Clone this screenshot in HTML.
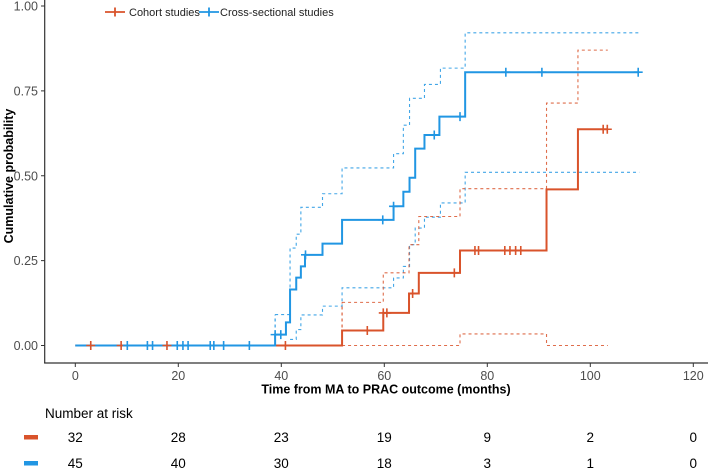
<!DOCTYPE html>
<html><head><meta charset="utf-8"><style>
html,body{margin:0;padding:0;background:#fff;}
svg{display:block;font-family:"Liberation Sans",Arial,sans-serif;}
</style></head><body>
<svg id="chart" width="708" height="472" viewBox="0 0 708 472"></svg>
<script>
// ---- data ----
const xTicks = [0, 20, 40, 60, 80, 100, 120];
const yTicks = [0, 0.25, 0.5, 0.75, 1.0];
const yTickLabels = ["0.00", "0.25", "0.50", "0.75", "1.00"];
// Cross-sectional (blue)
const blueTimes = [38.8, 40.9, 41.7, 42.9, 43.8, 44.6, 48.0, 51.8, 61.8, 63.7, 64.9, 66.0, 67.8, 70.7, 75.7];
const blueVals  = [0.032, 0.068, 0.165, 0.2, 0.233, 0.267, 0.30, 0.37, 0.41, 0.453, 0.494, 0.58, 0.62, 0.674, 0.805];
const blueEnd = 109.5;
const blueCensorT = [10.1, 14.0, 15.0, 19.8, 20.9, 21.9, 26.2, 26.9, 28.8, 33.8, 38.8, 39.9, 44.7, 59.7, 61.8, 69.7, 74.7, 83.6, 90.6, 109.3];
const blueUpperT = [38.8, 41.7, 42.9, 43.8, 48.0, 51.8, 61.8, 63.7, 64.9, 67.8, 70.9, 75.7];
const blueUpperV = [0.091, 0.287, 0.328, 0.407, 0.447, 0.523, 0.565, 0.649, 0.728, 0.769, 0.817, 0.921];
const blueLowerT = [41.7, 42.9, 43.8, 48.0, 51.8, 61.8, 63.7, 64.9, 66.0, 67.8, 70.9, 75.7];
const blueLowerV = [0.018, 0.047, 0.09, 0.116, 0.17, 0.199, 0.233, 0.297, 0.346, 0.378, 0.42, 0.51];
// Cohort (red)
const redTimes = [51.8, 59.8, 64.8, 66.7, 74.7, 91.5, 97.6];
const redVals  = [0.044, 0.096, 0.153, 0.214, 0.28, 0.46, 0.637];
const redEnd = 103.4;
const redCensorT = [3.0, 8.9, 17.8, 40.8, 56.7, 59.8, 60.5, 65.5, 73.6, 77.6, 78.3, 83.4, 84.4, 85.5, 86.5, 102.5, 103.3];
const redUpperT = [51.8, 59.8, 64.8, 66.7, 74.7, 91.5, 97.6];
const redUpperV = [0.127, 0.214, 0.297, 0.38, 0.462, 0.714, 0.87];
const redLowerT = [51.8, 74.7, 91.5];
const redLowerV = [0, 0.034, 0];
// risk table
const riskRed  = [32, 28, 23, 19, 9, 2, 0];
const riskBlue = [45, 40, 30, 18, 3, 1, 0];

const RED = "#d9532b", BLUE = "#2196e3";
const X0 = 75.3, XS = 5.15, Y0 = 345.5, YS = 339.5;
function sx(t){ return X0 + t * XS; }
function sy(p){ return Y0 - p * YS; }
const svg = document.getElementById('chart');
const NS = "http://www.w3.org/2000/svg";
function mk(tag, attrs, parent){
  const e = document.createElementNS(NS, tag);
  for (const k in attrs) e.setAttribute(k, attrs[k]);
  (parent || svg).appendChild(e);
  return e;
}
function stepVal(times, vals, t, start){
  let v = start;
  for (let i = 0; i < times.length; i++) if (times[i] <= t) v = vals[i];
  return v;
}
function stepPath(times, vals, t0, v0, tEnd){
  let d = "M" + sx(t0) + "," + sy(v0);
  let v = v0;
  for (let i = 0; i < times.length; i++){
    d += " H" + sx(times[i]) + " V" + sy(vals[i]);
    v = vals[i];
  }
  d += " H" + sx(tEnd);
  return d;
}

// axes
let e;
e = mk('line', {x1:44.7, y1:0, x2:44.7, y2:363, stroke:"#333", "stroke-width":1.2});
 
e = mk('line', {x1:44.1, y1:363, x2:708, y2:363, stroke:"#333", "stroke-width":1.2});
 
yTicks.forEach((v, i) => {
  const t = mk('line', {x1:41, y1:sy(v), x2:44.7, y2:sy(v), stroke:"#333"});
   
  const l = mk('text', {x:38, y:sy(v) + 4.5, "text-anchor":"end", "font-size":"12.5", fill:"#4d4d4d"});
  l.textContent = yTickLabels[i];
   
});
xTicks.forEach(v => {
  const t = mk('line', {x1:sx(v), y1:363, x2:sx(v), y2:367, stroke:"#333"});
   
  const l = mk('text', {x:sx(v), y:380, "text-anchor":"middle", "font-size":"12.5", fill:"#4d4d4d"});
  l.textContent = v;
   
});
e = mk('text', {x:386, y:393.5, "text-anchor":"middle", "font-size":"12.5", "font-weight":"bold", fill:"#000"});
e.textContent = "Time from MA to PRAC outcome (months)";
 
e = mk('text', {x:0, y:0, "text-anchor":"middle", "font-size":"12.5", "font-weight":"bold", fill:"#000", transform:"translate(13,176) rotate(-90)"});
e.textContent = "Cumulative probability";
 

// confidence bands
function band(times, vals, end, color, name){
  const p = mk('path', {d: stepPath(times.slice(1), vals.slice(1), times[0], vals[0], end), fill:"none", stroke:color, "stroke-width":1.1, "stroke-dasharray":"3,3", opacity:0.85});
   
  // vertical lead-in from 0 for first step
  return p;
}
band(blueUpperT, blueUpperV, blueEnd, BLUE, 'blue-upper-ci');
band(blueLowerT, blueLowerV, blueEnd, BLUE, 'blue-lower-ci');
band(redUpperT, redUpperV, redEnd, RED, 'red-upper-ci');
band(redLowerT, redLowerV, redEnd, RED, 'red-lower-ci');
// connecting verticals at band starts
e = mk('line', {x1:sx(blueUpperT[0]), y1:sy(0), x2:sx(blueUpperT[0]), y2:sy(blueUpperV[0]), stroke:BLUE, "stroke-dasharray":"3,3", "stroke-width":1.1});
 
e = mk('line', {x1:sx(redUpperT[0]), y1:sy(0), x2:sx(redUpperT[0]), y2:sy(redUpperV[0]), stroke:RED, "stroke-dasharray":"3,3", "stroke-width":1.1});
 

// curves
e = mk('path', {d: stepPath(redTimes, redVals, 0, 0, redEnd), fill:"none", stroke:RED, "stroke-width":2});
 
e = mk('path', {d: stepPath(blueTimes, blueVals, 0, 0, blueEnd), fill:"none", stroke:BLUE, "stroke-width":2});
 

function censor(t, v, color, name){
  const x = sx(t), y = sy(v);
  const g = mk('path', {d:`M${x-4.5},${y} H${x+4.5} M${x},${y-4.5} V${y+4.5}`, stroke:color, "stroke-width":1.6});
   
}
redCensorT.forEach(t => censor(t, stepVal(redTimes, redVals, t, 0), RED, 'cohort-censor-mark'));
blueCensorT.forEach(t => censor(t, stepVal(blueTimes, blueVals, t, 0), BLUE, 'cross-sectional-censor-mark'));

// legend
function legendItem(cx, tx, color, label, name){
  const g = mk('g', {});
   
  mk('path', {d:`M${cx-10},12 H${cx+10} M${cx},7.5 V16.5`, stroke:color, "stroke-width":1.8}, g);
  const t = mk('text', {x:tx, y:16, "font-size":"11", fill:"#222"}, g);
  t.textContent = label;
}
legendItem(115, 129, RED, "Cohort studies", 'legend-cohort');
legendItem(209, 220, BLUE, "Cross-sectional studies", 'legend-cross-sectional');

// risk table
e = mk('text', {x:45, y:418, "font-size":"13.5", fill:"#000"});
e.textContent = "Number at risk";
 
e = mk('rect', {x:24, y:435, width:14, height:4.5, fill:RED});
 
e = mk('rect', {x:24, y:461, width:14, height:4.5, fill:BLUE});
 
riskRed.forEach((n, i) => {
  const t = mk('text', {x:sx(xTicks[i]), y:442, "text-anchor":"middle", "font-size":"13.5", fill:"#000"});
  t.textContent = n;
   
});
riskBlue.forEach((n, i) => {
  const t = mk('text', {x:sx(xTicks[i]), y:468, "text-anchor":"middle", "font-size":"13.5", fill:"#000"});
  t.textContent = n;
   
});
</script>
</body></html>
